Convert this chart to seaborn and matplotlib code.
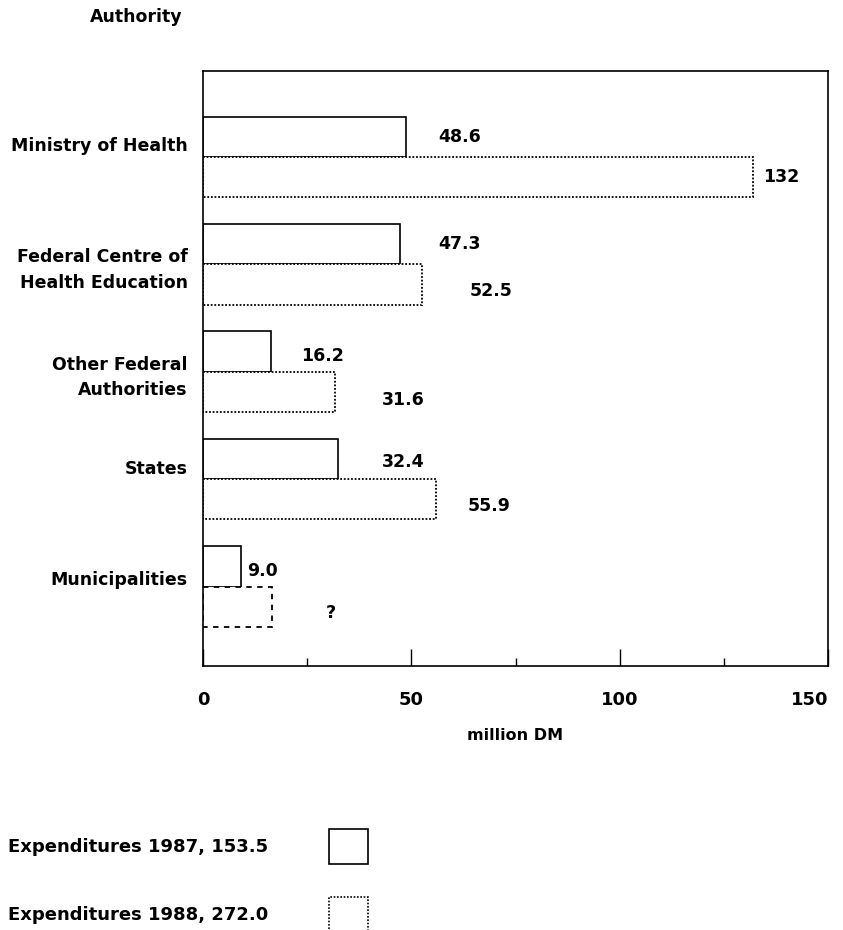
import numpy as np
import pandas as pd
import seaborn as sns
import matplotlib.pyplot as plt
from matplotlib.patches import Rectangle

# data
authorities = ["Ministry of Health", "Federal Centre of\nHealth Education",
               "Other Federal\nAuthorities", "States", "Municipalities"]
exp_1987 = [48.6, 47.3, 16.2, 32.4, 9.0]
exp_1988 = [132, 52.5, 31.6, 55.9, 16.5]   # municipalities 1988 unknown, drawn as dashed box
labels_1987 = ["48.6", "47.3", "16.2", "32.4", "9.0"]
labels_1988 = ["132", "52.5", "31.6", "55.9", "?"]
legend_labels = ["Expenditures 1987, 153.5", "Expenditures 1988, 272.0"]

# where the value labels sit (x in million DM, y offset in category units)
label_x_1987 = [56.5, 56.5, 23.5, 43.0, 10.5]
label_x_1988 = [134.5, 64.0, 43.0, 63.5, 29.5]
label_dy_1987 = [0.0, 0.0, 0.04, 0.03, 0.04]
label_dy_1988 = [0.0, 0.06, 0.08, 0.06, 0.06]

df = pd.DataFrame({
    "authority": authorities * 2,
    "value": exp_1987 + exp_1988,
    "year": ["1987"] * 5 + ["1988"] * 5,
})

sns.set_style("white")
plt.rcParams['font.family'] = ['DejaVu Sans']
plt.rcParams['font.weight'] = 'bold'
plt.rcParams['text.color'] = 'black'
plt.rcParams['xtick.color'] = 'black'
plt.rcParams['ytick.color'] = 'black'
plt.rcParams['axes.labelcolor'] = 'black'

fig = plt.figure(figsize=(8.43, 9.30), dpi=100)
ax = fig.add_axes([203 / 843, 1 - 666 / 930, 625 / 843, 595 / 930])

sns.barplot(data=df, x="value", y="authority", hue="year", orient="h",
            palette=["white", "white"], width=0.75, legend=False, ax=ax)

# style bars: 1987 solid outline, 1988 dotted outline
for i, bar in enumerate(ax.containers[0]):
    bar.set_edgecolor("black")
    bar.set_linewidth(1.2)
for i, bar in enumerate(ax.containers[1]):
    bar.set_edgecolor("black")
    bar.set_linewidth(1.3)
    bar.set_linestyle((0, (1, 1)))
    if labels_1988[i] == "?":
        bar.set_linestyle((0, (3, 3)))

# value labels
for i in range(len(authorities)):
    b0 = ax.containers[0][i]
    b1 = ax.containers[1][i]
    y0 = b0.get_y() + b0.get_height() / 2 + label_dy_1987[i]
    y1 = b1.get_y() + b1.get_height() / 2 + label_dy_1988[i]
    ax.text(label_x_1987[i], y0, labels_1987[i], fontsize=12.5, fontweight="bold",
            ha="left", va="center")
    ax.text(label_x_1988[i], y1, labels_1988[i], fontsize=12.5, fontweight="bold",
            ha="left", va="center")

ax.set_xlim(0, 150)
ax.set_ylim(4.74, -0.80)
ax.set_xticks([0, 50, 100, 150])
ax.set_xticks([25, 75, 125], minor=True)
ax.tick_params(axis="x", which="major", direction="in", length=12, width=1,
               pad=18, labelsize=13, bottom=True)
ax.tick_params(axis="x", which="minor", direction="in", length=6, width=1, bottom=True)
xt = ax.get_xticklabels()
for t in xt:
    t.set_fontweight("bold")
xt[-1].set_horizontalalignment("right")

ax.set_yticks([-0.12, 1.0, 2.0, 2.89, 3.92])
ax.set_yticklabels(authorities, fontsize=12.5, fontweight="bold", linespacing=1.55)
ax.tick_params(axis="y", length=0, pad=11)

ax.set_xlabel("million DM", fontsize=11.5, fontweight="bold")
ax.xaxis.set_label_coords(0.5, -0.105)
ax.set_ylabel("")

for s in ax.spines.values():
    s.set_visible(True)
    s.set_color("black")
    s.set_linewidth(1.2)

fig.text(90 / 843, 1 - 17 / 930, "Authority", fontsize=12.5, fontweight="bold",
         ha="left", va="center")

# legend, text on the left and an empty box on the right
legend_y = [847, 915]
legend_styles = ["-", (0, (1, 1))]
for lab, yy, ls in zip(legend_labels, legend_y, legend_styles):
    fig.text(8 / 843, 1 - yy / 930, lab, fontsize=13, fontweight="bold",
             ha="left", va="center")
    fig.patches.append(Rectangle((329 / 843, 1 - (yy + 17) / 930), 39 / 843, 35 / 930,
                                 transform=fig.transFigure, facecolor="white",
                                 edgecolor="black", linewidth=1.2, linestyle=ls))

fig.savefig("out.png", dpi=100)
